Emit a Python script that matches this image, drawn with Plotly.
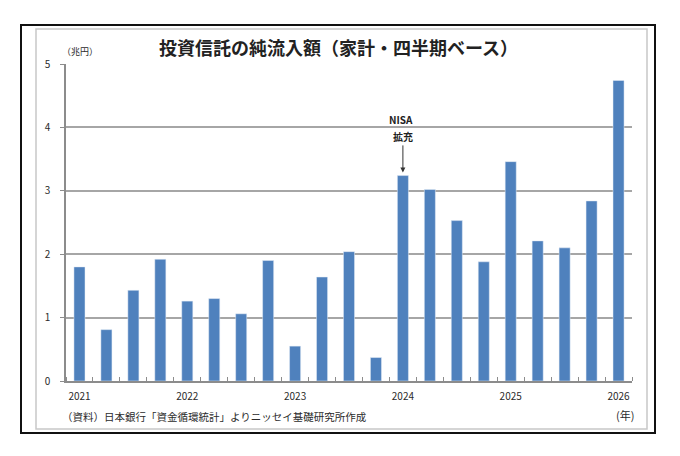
import plotly.graph_objects as go

# 四半期ごとの純流入額（兆円）, 2021Q1 - 2026Q1
quarters = list(range(21))
flows = [1.80, 0.81, 1.43, 1.92, 1.26, 1.30, 1.06, 1.90, 0.55, 1.64, 2.04, 0.37,
         3.24, 3.02, 2.53, 1.88, 3.46, 2.21, 2.10, 2.84, 4.74]
year_pos = [0, 4, 8, 12, 16, 20]
year_labels = ["2021", "2022", "2023", "2024", "2025", "2026"]
y_ticks = [0, 1, 2, 3, 4, 5]

# the page body has an 8px margin, so the figure sits at (8, 8)
OFF = 8
W, H = 680 - 2 * OFF, 456 - 2 * OFF
L, R, T, B = 66, 632, 64, 381   # plot area in page pixels

def px(x):
    return (x - L) / (R - L)

def py(y):
    return (B - y) / (B - T)

jp = "Noto Sans CJK JP"
txt = "#2b2b2b"
grid = "#a6a6a6"
axis = "#8c8c8c"

fig = go.Figure()
fig.add_trace(go.Bar(x=quarters, y=flows, marker_color="#4f81bd", width=0.41,
                     hoverinfo="y"))

fig.update_layout(
    width=W, height=H,
    margin=dict(l=L - OFF, r=W + OFF - R, t=T - OFF, b=H + OFF - B),
    paper_bgcolor="white", plot_bgcolor="white",
    showlegend=False,
    font=dict(family=jp, size=10, color=txt),
    xaxis=dict(range=[-0.5, 20.5], tickvals=year_pos, ticktext=year_labels,
               ticks="", showgrid=False, showline=True, linecolor=axis,
               linewidth=1.5, zeroline=False, ticklabelstandoff=5,
               tickfont=dict(size=10, color=txt),
               minor=dict(tick0=0.5, dtick=1, ticks="inside", ticklen=4,
                          tickcolor=axis, showgrid=False)),
    yaxis=dict(range=[0, 5], tickvals=y_ticks, showgrid=True, gridcolor=grid,
               gridwidth=1.5, showline=True, linecolor=axis, linewidth=1.5,
               ticks="outside", ticklen=4, tickcolor=axis, zeroline=False,
               ticklabelstandoff=8, tickfont=dict(size=10, color=txt)),
)

# 外枠と内枠
fig.add_shape(type="rect", xref="paper", yref="paper",
              x0=px(21), x1=px(655), y0=py(433), y1=py(25),
              line=dict(color="#111111", width=2), layer="below")
fig.add_shape(type="rect", xref="paper", yref="paper",
              x0=px(36), x1=px(647), y0=py(429), y1=py(29),
              line=dict(color="#c8c8c8", width=1.5), layer="below")

def label(text, x, y, size, xanchor="center", color=txt):
    fig.add_annotation(text=text, xref="paper", yref="paper", x=px(x), y=py(y),
                       xanchor=xanchor, yanchor="middle", showarrow=False,
                       font=dict(size=size, color=color))

label("<b>投資信託の純流入額（家計・四半期ベース）</b>", 338, 47, 18, color="#222222")
label("（兆円）", 60, 51, 9, xanchor="left")
label("（資料）日本銀行「資金循環統計」よりニッセイ基礎研究所作成", 60, 416, 10.5,
      xanchor="left")
label("(年)", 636, 415, 11, xanchor="right")

# NISA拡充の注記
label("<b>NISA</b>", 401, 119, 10, color="#222222")
fig.add_annotation(text="<b>拡充</b>", x=12, y=flows[12] + 0.05,
                   ax=0, ay=-36, showarrow=True, arrowhead=2, arrowsize=1,
                   arrowwidth=1, arrowcolor="#333333", standoff=0,
                   font=dict(size=10, color="#222222"))

fig.write_html("out.html")
